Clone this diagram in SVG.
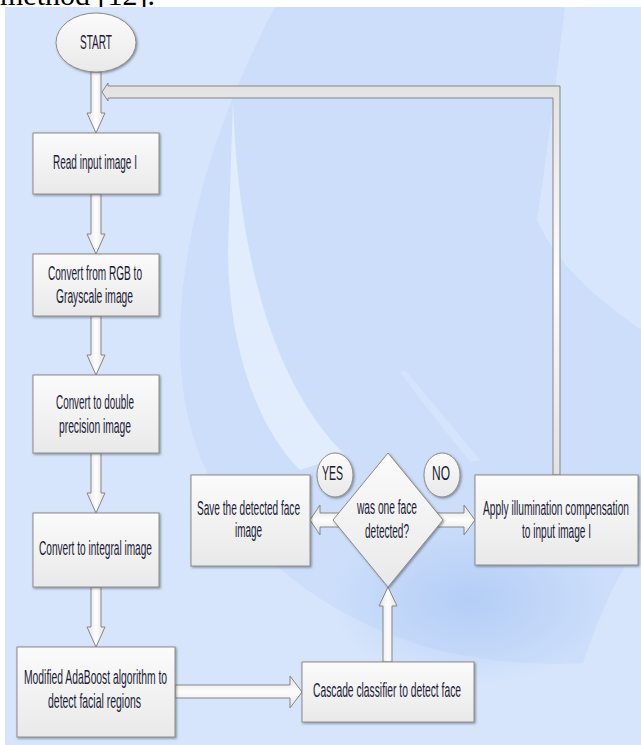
<svg xmlns="http://www.w3.org/2000/svg" width="641" height="745" viewBox="0 0 641 745">
  <defs>
    <linearGradient id="boxGrad" x1="0" y1="0" x2="0" y2="1">
      <stop offset="0" stop-color="#fbfbfb"/>
      <stop offset="1" stop-color="#e9e9e9"/>
    </linearGradient>
    <linearGradient id="vArrowGrad" x1="0" y1="0" x2="1" y2="0">
      <stop offset="0" stop-color="#e2e2e2"/>
      <stop offset="0.5" stop-color="#fdfdfd"/>
      <stop offset="1" stop-color="#e2e2e2"/>
    </linearGradient>
    <linearGradient id="hArrowGrad" x1="0" y1="0" x2="0" y2="1">
      <stop offset="0" stop-color="#e2e2e2"/>
      <stop offset="0.5" stop-color="#fdfdfd"/>
      <stop offset="1" stop-color="#e2e2e2"/>
    </linearGradient>
    <radialGradient id="darkSpot" cx="0.5" cy="0.5" r="0.5">
      <stop offset="0" stop-color="#b3cdf6" stop-opacity="0.95"/>
      <stop offset="1" stop-color="#b3cdf6" stop-opacity="0"/>
    </radialGradient>
    <filter id="shadow" x="-10%" y="-10%" width="125%" height="125%">
      <feDropShadow dx="1.2" dy="1.2" stdDeviation="0.8" flood-color="#4a4a4a" flood-opacity="0.55"/>
    </filter>
  </defs>
  <style>
    .box { fill: url(#boxGrad); stroke: #8c8c8c; stroke-width: 1; filter: url(#shadow); }
    .varr { fill: url(#vArrowGrad); stroke: #858585; stroke-width: 1; stroke-linejoin: miter; }
    .harr { fill: url(#hArrowGrad); stroke: #858585; stroke-width: 1; stroke-linejoin: miter; }
    .lbl { font-family: "Liberation Sans", Arial, sans-serif; font-size: 19.5px; fill: #1b1b36; text-anchor: middle; }
    .page { font-family: "Liberation Serif", "Times New Roman", serif; font-size: 30px; fill: #000; }
  </style>

  <!-- page text above the figure -->
  <text class="page" x="0" y="5" textLength="155" lengthAdjust="spacingAndGlyphs">method [12].</text>

  <!-- background panel -->
  <g id="background">
    <rect x="5" y="7" width="636" height="738" fill="#d6e5fc"/>
    <path d="M 275,7 C 215,120 170,260 182,380 C 196,520 300,610 430,648 C 510,668 585,668 641,655 L 641,7 Z" fill="#ccdefa"/>
    <path d="M 565,7 L 641,7 L 641,330 C 600,300 560,270 537,220 C 548,150 556,80 565,7 Z" fill="#d8e6fd"/>
    <path d="M 641,540 C 600,600 575,680 560,745 L 641,745 Z" fill="#d6e5fc"/>
    <path d="M 233,100 C 238,250 270,380 345,455 L 300,470 C 250,420 228,330 228,250 Z" fill="#e1ecfd"/>
    <ellipse cx="470" cy="600" rx="140" ry="85" fill="url(#darkSpot)"/>
    <path d="M 405,370 C 430,400 455,430 480,460 L 470,462 C 445,430 420,400 400,372 Z" fill="#d9e7fd" opacity="0.7"/>
  </g>

  <!-- connectors -->
  <g id="connectors">
    <polygon class="varr" points="91,72 101,72 101,113 105,113 96,133 87,113 91,113"/>
    <polygon class="varr" points="91,194 101,194 101,234 105,234 96,254 87,234 91,234"/>
    <polygon class="varr" points="91,316 101,316 101,355 105,355 96,375 87,355 91,355"/>
    <polygon class="varr" points="91,453 101,453 101,493 105,493 96,513 87,493 91,493"/>
    <polygon class="varr" points="91,587 101,587 101,627 105,627 96,647 87,627 91,627"/>
    <polygon class="harr" points="175,685 290,685 290,676 302,692 290,708 290,698 175,698"/>
    <polygon class="varr" points="383,662 383,606 379,606 388,587 397,606 392,606 392,662"/>
    <polygon class="harr" points="342,513 320,513 320,505 310,520 320,535 320,527 342,527"/>
    <polygon class="harr" points="434,513 464,513 464,505 475,520 464,535 464,527 434,527"/>
    <polygon class="harr" points="560,475 560,86 108,86 108,83 102,92 108,101 108,98 553,98 553,475"/>
  </g>

  <g id="start">
    <ellipse cx="96" cy="42.5" rx="40" ry="29.5" class="box"/>
    <text class="lbl" transform="translate(96,49) scale(0.58,1)" textLength="55.2" lengthAdjust="spacingAndGlyphs">START</text>
  </g>

  <g id="read">
    <rect class="box" x="33" y="133" width="126" height="61"/>
    <text class="lbl" transform="translate(95,169) scale(0.58,1)" textLength="144.8" lengthAdjust="spacingAndGlyphs">Read input image I</text>
  </g>

  <g id="gray">
    <rect class="box" x="33" y="254" width="126" height="62"/>
    <text class="lbl" transform="translate(95,280) scale(0.58,1)" textLength="162.1" lengthAdjust="spacingAndGlyphs">Convert from RGB to</text>
    <text class="lbl" transform="translate(94.5,303) scale(0.58,1)" textLength="132.8" lengthAdjust="spacingAndGlyphs">Grayscale image</text>
  </g>

  <g id="double">
    <rect class="box" x="33" y="375" width="126" height="78"/>
    <text class="lbl" transform="translate(95,409) scale(0.58,1)" textLength="134.5" lengthAdjust="spacingAndGlyphs">Convert to double</text>
    <text class="lbl" transform="translate(95,433) scale(0.58,1)" textLength="124.1" lengthAdjust="spacingAndGlyphs">precision image</text>
  </g>

  <g id="integral">
    <rect class="box" x="33" y="513" width="126" height="74"/>
    <text class="lbl" transform="translate(95.5,555) scale(0.58,1)" textLength="194.8" lengthAdjust="spacingAndGlyphs">Convert to integral image</text>
  </g>

  <g id="adaboost">
    <rect class="box" x="17" y="647" width="158" height="90"/>
    <text class="lbl" transform="translate(95.5,684) scale(0.58,1)" textLength="246.6" lengthAdjust="spacingAndGlyphs">Modified AdaBoost algorithm to</text>
    <text class="lbl" transform="translate(94.5,708) scale(0.58,1)" textLength="160.3" lengthAdjust="spacingAndGlyphs">detect facial regions</text>
  </g>

  <g id="cascade">
    <rect class="box" x="302" y="662" width="172" height="60"/>
    <text class="lbl" transform="translate(387,697) scale(0.58,1)" textLength="255.2" lengthAdjust="spacingAndGlyphs">Cascade classifier to detect face</text>
  </g>

  <g id="decision">
    <polygon class="box" points="388,453 443,520 388,587 333,520"/>
    <text class="lbl" transform="translate(387,514) scale(0.58,1)" textLength="103.4" lengthAdjust="spacingAndGlyphs">was one face</text>
    <text class="lbl" transform="translate(387,538) scale(0.58,1)" textLength="75.9" lengthAdjust="spacingAndGlyphs">detected?</text>
  </g>

  <g id="save">
    <rect class="box" x="191" y="475" width="119" height="91"/>
    <text class="lbl" transform="translate(248.5,515) scale(0.58,1)" textLength="177.6" lengthAdjust="spacingAndGlyphs">Save the detected face</text>
    <text class="lbl" transform="translate(248.5,537) scale(0.58,1)" textLength="46.6" lengthAdjust="spacingAndGlyphs">image</text>
  </g>

  <g id="apply">
    <rect class="box" x="475" y="475" width="163" height="90"/>
    <text class="lbl" transform="translate(556,515) scale(0.58,1)" textLength="251.7" lengthAdjust="spacingAndGlyphs">Apply illumination compensation</text>
    <text class="lbl" transform="translate(556.5,538) scale(0.58,1)" textLength="119" lengthAdjust="spacingAndGlyphs">to input image I</text>
  </g>

  <g id="yes">
    <ellipse class="box" cx="335" cy="475" rx="18" ry="22"/>
    <text class="lbl" transform="translate(332.5,480) scale(0.58,1)" textLength="36.2" lengthAdjust="spacingAndGlyphs">YES</text>
  </g>

  <g id="no">
    <ellipse class="box" cx="442" cy="475" rx="18" ry="22"/>
    <text class="lbl" transform="translate(441,480) scale(0.58,1)" textLength="31" lengthAdjust="spacingAndGlyphs">NO</text>
  </g>
</svg>
